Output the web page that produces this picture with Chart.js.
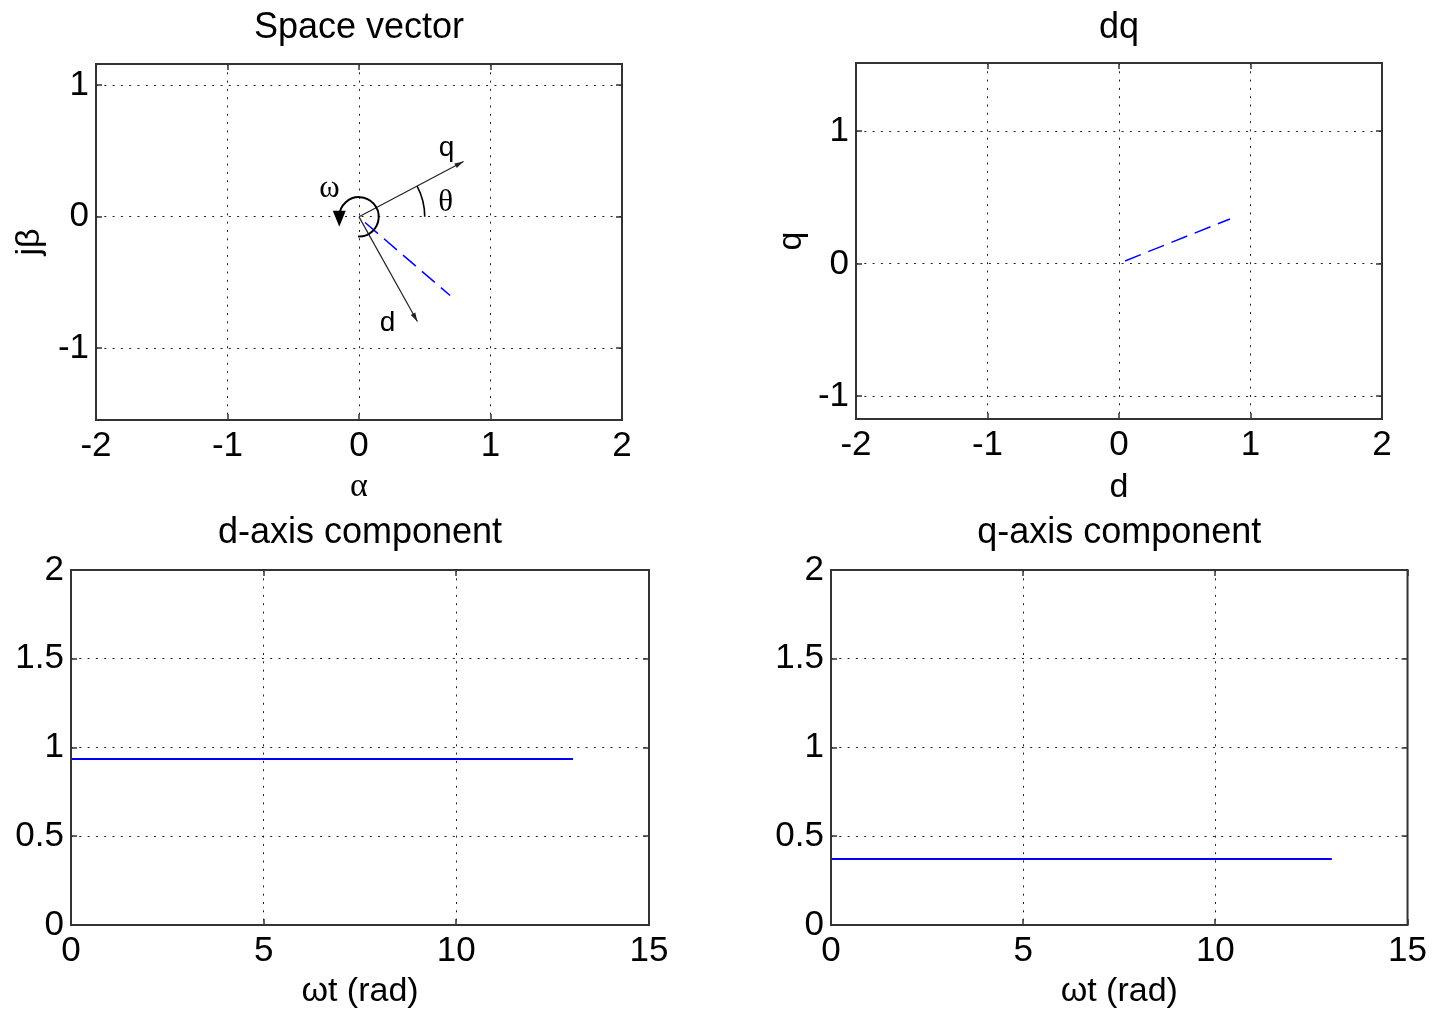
<!DOCTYPE html>
<html>
<head>
<meta charset="utf-8">
<title>Space vector and dq components</title>
<script src="https://cdn.jsdelivr.net/npm/chart.js@4/dist/chart.umd.min.js"></script>
<style>
  html, body { margin: 0; padding: 0; background: #fff; }
  body { width: 1436px; height: 1013px; position: relative; overflow: hidden; }
  canvas { position: absolute; }
</style>
</head>
<body>
<canvas id="sv"  width="718" height="506" style="left:0;top:0"></canvas>
<canvas id="dq"  width="718" height="506" style="left:718px;top:0"></canvas>
<canvas id="dax" width="718" height="507" style="left:0;top:506px"></canvas>
<canvas id="qax" width="718" height="507" style="left:718px;top:506px"></canvas>
<script>
// ── Data ────────────────────────────────────────────────────────────────
// space vector in the stationary (alpha, j-beta) plane
const svVecAlpha = [0.046, 0.693];
const svVecBeta  = [-0.043, -0.599];
// rotating d / q reference axes drawn in the same plane
const qAxisAlpha = [0, 0.795];
const qAxisBeta  = [0, 0.421];
const dAxisAlpha = [0, 0.444];
const dAxisBeta  = [0, -0.797];

// the same vector seen in the rotating frame
const dqVecD = [0.046, 0.844];
const dqVecQ = [0.023, 0.340];

// components against electrical angle
const wt    = [0, 13.03];
const dComp = [0.935, 0.935];
const qComp = [0.372, 0.372];

const planeTicksX = [-2, -1, 0, 1, 2];
const planeTicksY = [-1, 0, 1];
const timeTicks   = [0, 5, 10, 15];
const compTicks   = [0, 0.5, 1, 1.5, 2];

// ── Shared styling ──────────────────────────────────────────────────────
const SANS  = '"Liberation Sans", Arial, sans-serif';
const SERIF = '"Liberation Serif", "Times New Roman", serif';
const BLUE  = '#0000ff';
const INK   = '#333';
const TICK_LEN = 6;

const GRID   = { color: '#222', lineWidth: 1, drawTicks: false };
const BORDER = { display: false, dash: [2, 6.3] };

function pts(xs, ys) { return xs.map((x, i) => ({ x, y: ys[i] })); }
function setTicks(values) { return scale => { scale.ticks = values.map(v => ({ value: v })); }; }

// box round the plot area with inward tick marks on all four sides
const frame = {
  id: 'frame',
  afterDraw(chart) {
    const { ctx, chartArea: a, scales: { x, y } } = chart;
    ctx.save();
    ctx.strokeStyle = INK;
    ctx.lineWidth = 1.5;
    ctx.beginPath();
    x.ticks.forEach(t => {
      const px = Math.round(x.getPixelForValue(t.value));
      ctx.moveTo(px, a.bottom); ctx.lineTo(px, a.bottom - TICK_LEN);
      ctx.moveTo(px, a.top);    ctx.lineTo(px, a.top + TICK_LEN);
    });
    y.ticks.forEach(t => {
      const py = Math.round(y.getPixelForValue(t.value));
      ctx.moveTo(a.left, py);  ctx.lineTo(a.left + TICK_LEN, py);
      ctx.moveTo(a.right, py); ctx.lineTo(a.right - TICK_LEN, py);
    });
    ctx.stroke();
    ctx.lineWidth = 2;
    ctx.strokeRect(a.left, a.top, a.right - a.left, a.bottom - a.top);
    ctx.restore();
  }
};

function axesOptions(cfg) {
  const tickFont  = { family: SANS, size: 35, lineHeight: 1 };
  const labelFont = { family: SANS, size: 34, lineHeight: 1 };
  return {
    responsive: false,
    animation: false,
    events: [],
    layout: { padding: { left: 0, top: 0, bottom: 0, right: cfg.right } },
    plugins: {
      legend:  { display: false },
      tooltip: { enabled: false },
      title: {
        display: true, text: cfg.title, fullSize: false, color: '#000',
        font: { family: SANS, size: 36, weight: 'normal', lineHeight: 1 },
        padding: { top: cfg.titleTop, bottom: cfg.titleBottom },
      },
    },
    scales: {
      x: {
        type: 'linear', position: 'bottom', min: cfg.xMin, max: cfg.xMax,
        afterBuildTicks: setTicks(cfg.xTicks),
        afterFit: s => { s.height = cfg.xHeight; },
        grid: GRID, border: BORDER,
        ticks: { color: '#000', font: tickFont, padding: 9, autoSkip: false, maxRotation: 0, callback: v => String(v) },
        title: { display: true, text: cfg.xLabel, color: '#000',
                 font: { ...labelFont, family: cfg.xLabelFamily || SANS },
                 padding: { top: 0, bottom: cfg.xLabelPad } },
      },
      y: {
        type: 'linear', position: 'left', min: cfg.yMin, max: cfg.yMax,
        afterBuildTicks: setTicks(cfg.yTicks),
        afterFit: s => { s.width = cfg.yWidth; },
        grid: GRID, border: BORDER,
        ticks: { color: '#000', font: tickFont, padding: 7, autoSkip: false, callback: v => String(v) },
        title: { display: !!cfg.yLabel, text: cfg.yLabel, color: '#000', font: labelFont,
                 padding: { top: cfg.yLabelPad || 0, bottom: 0 } },
      },
    },
  };
}

function vectorLine(data, color, width, dash) {
  return { data, borderColor: color, borderWidth: width, borderDash: dash || [],
           pointRadius: 0, tension: 0, fill: false };
}

// ── Space vector annotations: axis arrows, θ arc, ω rotation ───────────
const THETA_R = 0.5;    // data units
const OMEGA_R = 0.15;
const svText = [
  { text: 'q', x: 0.666, y: 0.52,   font: '28px ' + SANS },
  { text: 'd', x: 0.217, y: -0.81,  font: '28px ' + SANS },
  { text: 'θ', x: 0.66,  y: 0.107,  font: '31px ' + SERIF },
  { text: 'ω', x: -0.225, y: 0.215, font: '31px ' + SERIF },
];

function arrowHead(ctx, from, to, len, half) {
  const a = Math.atan2(to.y - from.y, to.x - from.x);
  const bx = to.x - len * Math.cos(a), by = to.y - len * Math.sin(a);
  ctx.beginPath();
  ctx.moveTo(to.x, to.y);
  ctx.lineTo(bx + half * Math.sin(a), by - half * Math.cos(a));
  ctx.lineTo(bx - half * Math.sin(a), by + half * Math.cos(a));
  ctx.closePath();
  ctx.fill();
}

const svMarks = {
  id: 'svMarks',
  afterDatasetsDraw(chart) {
    const { ctx, scales: { x, y } } = chart;
    const ox = x.getPixelForValue(0), oy = y.getPixelForValue(0);
    const unit = x.getPixelForValue(1) - ox;
    ctx.save();
    ctx.fillStyle = '#222';
    [1, 2].forEach(i => {
      const p = chart.getDatasetMeta(i).data;
      arrowHead(ctx, p[0], p[p.length - 1], 9, 2.6);
    });

    ctx.strokeStyle = '#000';
    const theta = Math.atan2(qAxisBeta[1], qAxisAlpha[1]);
    ctx.lineWidth = 1.6;
    ctx.beginPath();
    ctx.arc(ox, oy, THETA_R * unit, 0, -theta, true);
    ctx.stroke();

    const r = OMEGA_R * unit;
    ctx.lineWidth = 2;
    ctx.beginPath();
    ctx.arc(ox, oy, r, Math.PI / 2 + 0.05, Math.PI, true);
    ctx.stroke();
    ctx.fillStyle = '#000';
    ctx.beginPath();
    ctx.moveTo(ox - r - 6.5, oy - 6);
    ctx.lineTo(ox - r + 6.5, oy - 6);
    ctx.lineTo(ox - r, oy + 10);
    ctx.closePath();
    ctx.fill();

    ctx.textAlign = 'center';
    ctx.textBaseline = 'middle';
    svText.forEach(t => {
      ctx.font = t.font;
      ctx.fillText(t.text, x.getPixelForValue(t.x), y.getPixelForValue(t.y));
    });
    ctx.restore();
  }
};

// ── Charts ──────────────────────────────────────────────────────────────
new Chart(document.getElementById('sv'), {
  type: 'line',
  data: { datasets: [
    vectorLine(pts(svVecAlpha, svVecBeta), BLUE, 1.5, [17, 8]),
    vectorLine(pts(qAxisAlpha, qAxisBeta), '#222', 1.2),
    vectorLine(pts(dAxisAlpha, dAxisBeta), '#222', 1.2),
  ] },
  options: axesOptions({
    title: 'Space vector', titleTop: 10, titleBottom: 18,
    xMin: -2, xMax: 2, xTicks: planeTicksX, xHeight: 86, xLabel: 'α', xLabelFamily: SERIF, xLabelPad: 2,
    yMin: -1.546, yMax: 1.163, yTicks: planeTicksY, yWidth: 96, yLabel: 'jβ', yLabelPad: 13,
    right: 96,
  }),
  plugins: [svMarks, frame],
});

new Chart(document.getElementById('dq'), {
  type: 'line',
  data: { datasets: [ vectorLine(pts(dqVecD, dqVecQ), BLUE, 1.5, [17, 8]) ] },
  options: axesOptions({
    title: 'dq', titleTop: 10, titleBottom: 17,
    xMin: -2, xMax: 2, xTicks: planeTicksX, xHeight: 87, xLabel: 'd', xLabelPad: 1,
    yMin: -1.17, yMax: 1.517, yTicks: planeTicksY, yWidth: 138, yLabel: 'q', yLabelPad: 57,
    right: 54,
  }),
  plugins: [frame],
});

new Chart(document.getElementById('dax'), {
  type: 'line',
  data: { datasets: [ vectorLine(pts(wt, dComp), BLUE, 2) ] },
  options: axesOptions({
    title: 'd-axis component', titleTop: 9, titleBottom: 19,
    xMin: 0, xMax: 15, xTicks: timeTicks, xHeight: 88, xLabel: 'ωt (rad)', xLabelPad: 4,
    yMin: 0, yMax: 2, yTicks: compTicks, yWidth: 71,
    right: 69,
  }),
  plugins: [frame],
});

new Chart(document.getElementById('qax'), {
  type: 'line',
  data: { datasets: [ vectorLine(pts(wt, qComp), BLUE, 2) ] },
  options: axesOptions({
    title: 'q-axis component', titleTop: 9, titleBottom: 19,
    xMin: 0, xMax: 15, xTicks: timeTicks, xHeight: 88, xLabel: 'ωt (rad)', xLabelPad: 4,
    yMin: 0, yMax: 2, yTicks: compTicks, yWidth: 113,
    right: 27,
  }),
  plugins: [frame],
});
</script>
</body>
</html>
